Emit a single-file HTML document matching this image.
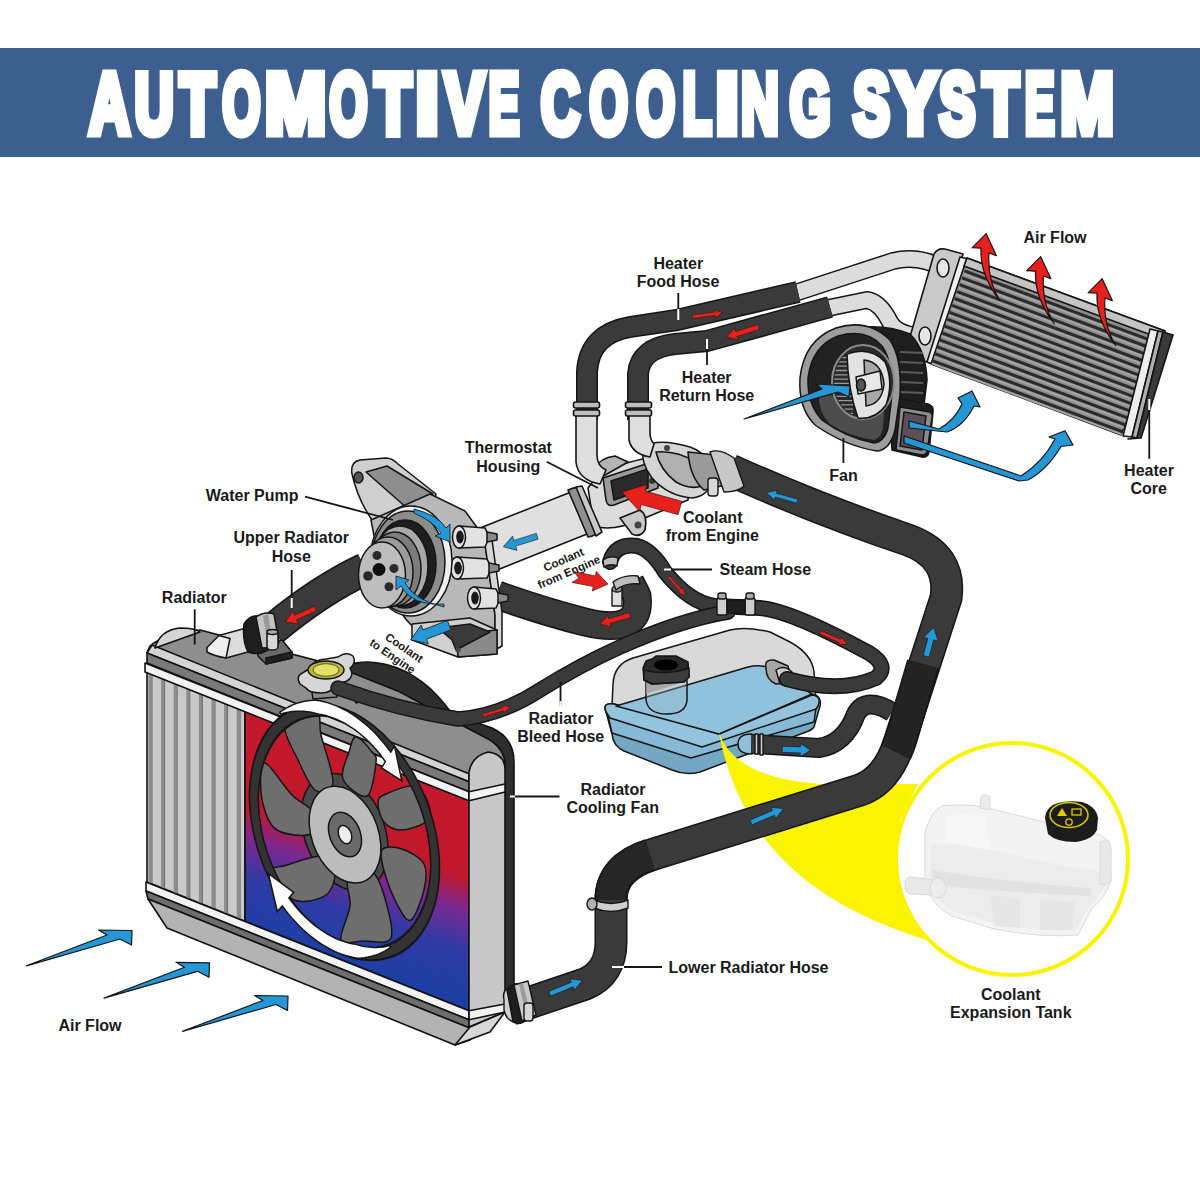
<!DOCTYPE html>
<html><head><meta charset="utf-8">
<style>
html,body{margin:0;padding:0;background:#fff;width:1200px;height:1200px;overflow:hidden}
svg{display:block}
.lb{font-family:"Liberation Sans",sans-serif;font-weight:bold;font-size:16px;fill:#1a1a1a;text-anchor:middle}
.ln{stroke:#111;stroke-width:2;fill:none}
.o{stroke:#111;stroke-width:1.6;stroke-linejoin:round}
</style></head><body>
<svg width="1200" height="1200" viewBox="0 0 1200 1200">
<defs>
<linearGradient id="rg" gradientUnits="userSpaceOnUse" x1="357" y1="756" x2="294.5" y2="945.4">
<stop offset="0" stop-color="#c5182b"/>
<stop offset="0.41" stop-color="#c0182c"/>
<stop offset="0.56" stop-color="#7d2790"/>
<stop offset="0.76" stop-color="#2f3aa5"/>
<stop offset="1" stop-color="#1d3fa3"/>
</linearGradient>
</defs>
<rect width="1200" height="1200" fill="#fff"/>
<rect x="0" y="48" width="1200" height="109" fill="#3c5f8f"/>
<g font-family="Liberation Sans" font-weight="bold" font-size="84.67" fill="#fff" stroke="#fff" stroke-width="9.0" stroke-linejoin="miter" stroke-miterlimit="2.5">
<text transform="translate(89.17,132.5) scale(0.6595,1)">A</text>
<text transform="translate(134.63,132.5) scale(0.6346,1)">U</text>
<text transform="translate(179.93,132.5) scale(0.6812,1)">T</text>
<text transform="translate(222.59,132.5) scale(0.5749,1)">O</text>
<text transform="translate(264.99,132.5) scale(0.8653,1)">M</text>
<text transform="translate(329.59,132.5) scale(0.5749,1)">O</text>
<text transform="translate(375.00,132.5) scale(0.6999,1)">T</text>
<text transform="translate(415.87,132.5) scale(0.9674,1)">I</text>
<text transform="translate(444.74,132.5) scale(0.7000,1)">V</text>
<text transform="translate(488.87,132.5) scale(0.5398,1)">E</text>
<text transform="translate(541.05,132.5) scale(0.6307,1)">C</text>
<text transform="translate(589.60,132.5) scale(0.5808,1)">O</text>
<text transform="translate(636.60,132.5) scale(0.5837,1)">O</text>
<text transform="translate(682.84,132.5) scale(0.5588,1)">L</text>
<text transform="translate(715.87,132.5) scale(0.9674,1)">I</text>
<text transform="translate(741.28,132.5) scale(0.6124,1)">N</text>
<text transform="translate(789.64,132.5) scale(0.6198,1)">G</text>
<text transform="translate(853.32,132.5) scale(0.6447,1)">S</text>
<text transform="translate(892.92,132.5) scale(0.7898,1)">Y</text>
<text transform="translate(939.30,132.5) scale(0.6364,1)">S</text>
<text transform="translate(982.96,132.5) scale(0.6880,1)">T</text>
<text transform="translate(1024.89,132.5) scale(0.5221,1)">E</text>
<text transform="translate(1060.61,132.5) scale(0.7553,1)">M</text>
</g>
<path d="M795,293 L893,261 Q918,255 943,268" fill="none" stroke="#151515" stroke-width="18" stroke-linecap="round" stroke-linejoin="round"/>
<path d="M795,293 L893,261 Q918,255 943,268" fill="none" stroke="#dcdcdc" stroke-width="15" stroke-linecap="round" stroke-linejoin="round"/>
<path d="M828,308 L867,300 Q880,302 890,322 Q898,336 925,336" fill="none" stroke="#151515" stroke-width="18" stroke-linecap="round" stroke-linejoin="round"/>
<path d="M828,308 L867,300 Q880,302 890,322 Q898,336 925,336" fill="none" stroke="#dcdcdc" stroke-width="15" stroke-linecap="round" stroke-linejoin="round"/>
<path d="M587,420 L587,372 Q589,334 630,327 L677,320 L798,292" fill="none" stroke="#151515" stroke-width="22" stroke-linecap="butt" stroke-linejoin="round"/>
<path d="M587,420 L587,372 Q589,334 630,327 L677,320 L798,292" fill="none" stroke="#3a3a3a" stroke-width="19" stroke-linecap="butt" stroke-linejoin="round"/>
<path d="M638,420 L638,374 Q640,348 675,344 L707,341 L830,307" fill="none" stroke="#151515" stroke-width="22" stroke-linecap="butt" stroke-linejoin="round"/>
<path d="M638,420 L638,374 Q640,348 675,344 L707,341 L830,307" fill="none" stroke="#3a3a3a" stroke-width="19" stroke-linecap="butt" stroke-linejoin="round"/>
<path d="M497,595 Q545,612 585,622 Q642,636 637,596 L630,582" fill="none" stroke="#151515" stroke-width="29" stroke-linecap="butt" stroke-linejoin="round"/>
<path d="M497,595 Q545,612 585,622 Q642,636 637,596 L630,582" fill="none" stroke="#3a3a3a" stroke-width="26" stroke-linecap="butt" stroke-linejoin="round"/>
<path d="M365,569 Q320,590 272,630" fill="none" stroke="#151515" stroke-width="33" stroke-linecap="butt" stroke-linejoin="round"/>
<path d="M365,569 Q320,590 272,630" fill="none" stroke="#3a3a3a" stroke-width="30" stroke-linecap="butt" stroke-linejoin="round"/>
<path d="M905,354 L934,254 Q937,248 945,249 L963,254 L930,363 Z" fill="#c9c9c9" stroke="#151515" stroke-width="1.6" stroke-linejoin="round"/>
<path d="M960,257 L968,259 L935,365 L927,362 Z" fill="#efefef" stroke="#151515" stroke-width="1.6" stroke-linejoin="round"/>
<ellipse cx="943" cy="268" rx="6" ry="9" fill="#e6e6e6" stroke="#151515" stroke-width="1.6" stroke-linejoin="round"/>
<ellipse cx="925" cy="336" rx="6" ry="9" fill="#e6e6e6" stroke="#151515" stroke-width="1.6" stroke-linejoin="round"/>
<path d="M967,258 L1165,331 L1121,435 L931,364 Z" fill="#8e8e8e" stroke="#151515" stroke-width="1.6" stroke-linejoin="round"/>
<path d="M967,258 L1165,331 L1162,339 L964,266 Z" fill="#c4c4c4" stroke="#151515" stroke-width="1.6" stroke-linejoin="round"/>
<line x1="964.5" y1="270.9" x2="1160.1" y2="343.8" stroke="#2a2a2a" stroke-width="3"/>
<line x1="963.8" y1="273.9" x2="1159.4" y2="346.8" stroke="#a8a8a8" stroke-width="1.6"/>
<line x1="962.0" y1="277.8" x2="1157.2" y2="350.5" stroke="#2a2a2a" stroke-width="3"/>
<line x1="961.3" y1="280.8" x2="1156.5" y2="353.5" stroke="#a8a8a8" stroke-width="1.6"/>
<line x1="959.6" y1="284.7" x2="1154.3" y2="357.3" stroke="#2a2a2a" stroke-width="3"/>
<line x1="958.9" y1="287.7" x2="1153.6" y2="360.3" stroke="#a8a8a8" stroke-width="1.6"/>
<line x1="957.1" y1="291.6" x2="1151.4" y2="364.0" stroke="#2a2a2a" stroke-width="3"/>
<line x1="956.4" y1="294.6" x2="1150.7" y2="367.0" stroke="#a8a8a8" stroke-width="1.6"/>
<line x1="954.6" y1="298.5" x2="1148.5" y2="370.8" stroke="#2a2a2a" stroke-width="3"/>
<line x1="953.9" y1="301.5" x2="1147.8" y2="373.8" stroke="#a8a8a8" stroke-width="1.6"/>
<line x1="952.1" y1="305.4" x2="1145.6" y2="377.6" stroke="#2a2a2a" stroke-width="3"/>
<line x1="951.4" y1="308.4" x2="1144.9" y2="380.6" stroke="#a8a8a8" stroke-width="1.6"/>
<line x1="949.6" y1="312.3" x2="1142.7" y2="384.3" stroke="#2a2a2a" stroke-width="3"/>
<line x1="948.9" y1="315.3" x2="1142.0" y2="387.3" stroke="#a8a8a8" stroke-width="1.6"/>
<line x1="947.1" y1="319.2" x2="1139.8" y2="391.1" stroke="#2a2a2a" stroke-width="3"/>
<line x1="946.4" y1="322.2" x2="1139.1" y2="394.1" stroke="#a8a8a8" stroke-width="1.6"/>
<line x1="944.7" y1="326.1" x2="1136.9" y2="397.8" stroke="#2a2a2a" stroke-width="3"/>
<line x1="944.0" y1="329.1" x2="1136.2" y2="400.8" stroke="#a8a8a8" stroke-width="1.6"/>
<line x1="942.2" y1="333.0" x2="1134.0" y2="404.6" stroke="#2a2a2a" stroke-width="3"/>
<line x1="941.5" y1="336.0" x2="1133.3" y2="407.6" stroke="#a8a8a8" stroke-width="1.6"/>
<line x1="939.7" y1="339.9" x2="1131.1" y2="411.3" stroke="#2a2a2a" stroke-width="3"/>
<line x1="939.0" y1="342.9" x2="1130.4" y2="414.3" stroke="#a8a8a8" stroke-width="1.6"/>
<line x1="937.2" y1="346.8" x2="1128.2" y2="418.1" stroke="#2a2a2a" stroke-width="3"/>
<line x1="936.5" y1="349.8" x2="1127.5" y2="421.1" stroke="#a8a8a8" stroke-width="1.6"/>
<line x1="934.7" y1="353.7" x2="1125.3" y2="424.9" stroke="#2a2a2a" stroke-width="3"/>
<line x1="934.0" y1="356.7" x2="1124.6" y2="427.9" stroke="#a8a8a8" stroke-width="1.6"/>
<line x1="932.2" y1="360.6" x2="1122.4" y2="431.6" stroke="#2a2a2a" stroke-width="3"/>
<line x1="931.5" y1="363.6" x2="1121.7" y2="434.6" stroke="#a8a8a8" stroke-width="1.6"/>
<path d="M1150,329 L1158,331 L1132,437 L1123,436 Z" fill="#eeeeee" stroke="#151515" stroke-width="1.6" stroke-linejoin="round"/>
<path d="M1158,331 L1163,332 L1137,438 L1132,437 Z" fill="#b0b0b0" stroke="#151515" stroke-width="1.6" stroke-linejoin="round"/>
<path d="M1163,332 L1173,335 L1141,438 L1128,439 L1137,438 Z" fill="#3a3a3a" stroke="#151515" stroke-width="1.6" stroke-linejoin="round"/>
<path d="M845,330 Q880,322 910,334 Q926,350 927,380 L924,405 L880,450 L840,420 Z" fill="#1e1e1e" stroke="#151515" stroke-width="1.5" stroke-linejoin="round"/>
<line x1="900" y1="352" x2="923" y2="353" stroke="#5a5a5a" stroke-width="2"/>
<line x1="900" y1="362" x2="923" y2="363" stroke="#5a5a5a" stroke-width="2"/>
<line x1="900" y1="372" x2="923" y2="373" stroke="#5a5a5a" stroke-width="2"/>
<line x1="900" y1="382" x2="923" y2="383" stroke="#5a5a5a" stroke-width="2"/>
<line x1="900" y1="392" x2="923" y2="393" stroke="#5a5a5a" stroke-width="2"/>
<line x1="900" y1="402" x2="923" y2="403" stroke="#5a5a5a" stroke-width="2"/>
<path d="M888,396 L928,404 Q934,406 933,412 L929,452 Q928,458 922,457 L892,450 Z" fill="#1e1e1e" stroke="#151515" stroke-width="1.5" stroke-linejoin="round"/>
<path d="M900,407 L930,412 Q933,414 932,418 L927,452 Q926,455 922,455 L896,450 Z" fill="#8c8c8c" stroke="#151515" stroke-width="1.5" stroke-linejoin="round"/>
<path d="M904,412 L926,416 L922,450 L900,446 Z" fill="#5d4f58" stroke="#151515" stroke-width="1.5" stroke-linejoin="round"/>
<path d="M877,451 Q845,446 815,425 Q798,408 800,378 Q804,340 836,328 Q868,318 890,340 Q902,358 900,395 L895,430 Q890,450 877,451 Z" fill="#9c9c9c" stroke="#151515" stroke-width="1.5" stroke-linejoin="round"/>
<path d="M874,443 Q846,438 822,420 Q807,404 808,378 Q812,346 838,336 Q866,328 882,346 Q893,362 892,395 L888,428 Q884,442 874,443 Z" fill="#222" stroke="#151515" stroke-width="1.5" stroke-linejoin="round"/>
<path d="M874,440 Q848,436 830,424 Q818,412 819,395 L885,398 L883,428 Q881,438 874,440 Z" fill="#4c4c4c"/>
<ellipse cx="863" cy="382" rx="31" ry="37" fill="#2a2a2a" stroke="#8a8a8a" stroke-width="2"/>
<clipPath id="wcl"><ellipse cx="863" cy="382" rx="29" ry="35"/></clipPath><g clip-path="url(#wcl)">
<line x1="830" y1="349.0" x2="853" y2="349.0" stroke="#9a9a9a" stroke-width="1.3"/>
<line x1="830" y1="353.3" x2="853" y2="353.3" stroke="#9a9a9a" stroke-width="1.3"/>
<line x1="830" y1="357.6" x2="853" y2="357.6" stroke="#9a9a9a" stroke-width="1.3"/>
<line x1="830" y1="361.9" x2="853" y2="361.9" stroke="#9a9a9a" stroke-width="1.3"/>
<line x1="830" y1="366.2" x2="853" y2="366.2" stroke="#9a9a9a" stroke-width="1.3"/>
<line x1="830" y1="370.5" x2="853" y2="370.5" stroke="#9a9a9a" stroke-width="1.3"/>
<line x1="830" y1="374.8" x2="853" y2="374.8" stroke="#9a9a9a" stroke-width="1.3"/>
<line x1="830" y1="379.1" x2="853" y2="379.1" stroke="#9a9a9a" stroke-width="1.3"/>
<line x1="830" y1="383.4" x2="853" y2="383.4" stroke="#9a9a9a" stroke-width="1.3"/>
<line x1="830" y1="387.7" x2="853" y2="387.7" stroke="#9a9a9a" stroke-width="1.3"/>
<line x1="830" y1="392.0" x2="853" y2="392.0" stroke="#9a9a9a" stroke-width="1.3"/>
<line x1="830" y1="396.3" x2="853" y2="396.3" stroke="#9a9a9a" stroke-width="1.3"/>
<line x1="830" y1="400.6" x2="853" y2="400.6" stroke="#9a9a9a" stroke-width="1.3"/>
<line x1="830" y1="404.9" x2="853" y2="404.9" stroke="#9a9a9a" stroke-width="1.3"/>
<line x1="830" y1="409.2" x2="853" y2="409.2" stroke="#9a9a9a" stroke-width="1.3"/>
<line x1="830" y1="413.5" x2="853" y2="413.5" stroke="#9a9a9a" stroke-width="1.3"/>
</g>
<path d="M847,354 Q870,346 885,362 Q894,382 886,405 Q875,420 858,418 Q848,390 847,354 Z" fill="#e2e2e2" stroke="#151515" stroke-width="1.5" stroke-linejoin="round"/>
<path d="M864,360 Q882,362 884,384 Q882,404 866,406 Z" fill="#a8a8a8" stroke="#151515" stroke-width="1.5" stroke-linejoin="round"/>
<path d="M856,377 L880,371 L882,389 L858,394 Z" fill="#e8e8e8" stroke="#151515" stroke-width="1.5" stroke-linejoin="round"/>
<ellipse cx="861" cy="385" rx="4.5" ry="6" fill="#555" stroke="#151515" stroke-width="1.5" stroke-linejoin="round"/>
<path d="M470,532 L571,492 L587,534 L482,576 Z" fill="#e0e0e0" stroke="#151515" stroke-width="1.6" stroke-linejoin="round"/>
<path d="M588,488 Q602,466 648,458 L690,478 L688,500 L640,520 Q612,532 594,526 Z" fill="#dcdcdc" stroke="#151515" stroke-width="1.6" stroke-linejoin="round"/>
<path d="M595,468 Q600,458 615,456 L628,462 L600,478 Z" fill="#b5b5b5" stroke="#151515" stroke-width="1.6" stroke-linejoin="round"/>
<path d="M568,490 Q576,486 582,488 L600,530 Q596,536 588,537 Z" fill="#8f8f8f" stroke="#151515" stroke-width="1.6" stroke-linejoin="round"/>
<path d="M576,487 L582,486 L602,532 L596,536 Z" fill="#c8c8c8" stroke="#151515" stroke-width="1.6" stroke-linejoin="round"/>
<path d="M603,478 L652,462 Q658,461 658,468 L658,488 L614,505 Q607,507 606,500 Z" fill="#9a9a9a" stroke="#151515" stroke-width="1.6" stroke-linejoin="round"/>
<path d="M611,481 L648,469 L648,488 L614,500 Z" fill="#2a2a2a" stroke="#151515" stroke-width="1.6" stroke-linejoin="round"/>
<circle cx="652" cy="481" r="3" fill="#333"/>
<path d="M620,518 L640,510 Q648,515 645,530 Q640,538 632,534 Z" fill="#c8c8c8" stroke="#151515" stroke-width="1.6" stroke-linejoin="round"/>
<circle cx="638" cy="525" r="3.5" fill="#444"/>
<path d="M643,446 Q660,438 690,447 Q712,455 712,478 Q710,496 692,498 Q668,496 652,478 Q640,462 643,446 Z" fill="#d5d5d5" stroke="#151515" stroke-width="1.6" stroke-linejoin="round"/>
<path d="M656,452 Q676,450 696,462 Q706,472 702,486 Q690,490 676,482 Q660,470 656,452 Z" fill="#b0b0b0" stroke="#151515" stroke-width="1.6" stroke-linejoin="round"/>
<circle cx="667" cy="448" r="3" fill="#444"/>
<path d="M688,452 L716,455 L730,484 L704,490 Q690,478 688,452 Z" fill="#9a9a9a" stroke="#151515" stroke-width="1.6" stroke-linejoin="round"/>
<path d="M576,410 L576,462 Q578,480 600,484 L606,470 Q597,466 597,455 L597,410 Z" fill="#dedede" stroke="#151515" stroke-width="1.6" stroke-linejoin="round"/>
<path d="M629,410 L629,440 Q632,454 650,457 L654,444 Q650,440 650,432 L650,410 Z" fill="#dedede" stroke="#151515" stroke-width="1.6" stroke-linejoin="round"/>
<rect x="573.5" y="402" width="26" height="6" rx="2" fill="#bdbdbd" stroke="#151515" stroke-width="1.6" stroke-linejoin="round"/>
<rect x="573.5" y="410" width="26" height="6" rx="2" fill="#bdbdbd" stroke="#151515" stroke-width="1.6" stroke-linejoin="round"/>
<rect x="625.5" y="402" width="26" height="6" rx="2" fill="#bdbdbd" stroke="#151515" stroke-width="1.6" stroke-linejoin="round"/>
<rect x="625.5" y="410" width="26" height="6" rx="2" fill="#bdbdbd" stroke="#151515" stroke-width="1.6" stroke-linejoin="round"/>
<path d="M352,474 Q350,462 360,460 L386,458 Q392,458 398,464 L436,494 L430,520 L372,520 Q358,500 352,474 Z" fill="#cfcfcf" stroke="#151515" stroke-width="1.5" stroke-linejoin="round"/>
<path d="M366,472 L387,466 L433,494 L408,509 Z" fill="#8e8e8e" stroke="#151515" stroke-width="1.5" stroke-linejoin="round"/>
<ellipse cx="358.5" cy="477.5" rx="4.5" ry="5.5" fill="#555" stroke="#151515" stroke-width="1.5" stroke-linejoin="round"/>
<path d="M371,520 L430,494 L465,511 L484,537 L495,615 L495,650 L456,655 L412,626 Q385,600 371,520 Z" fill="#b8b8b8" stroke="#151515" stroke-width="1.5" stroke-linejoin="round"/>
<path d="M484,537 L492,540 L502,612 L502,646 L495,650 L495,615 Z" fill="#d6d6d6" stroke="#151515" stroke-width="1.5" stroke-linejoin="round"/>
<path d="M412,624 L470,618 L497,630 L497,654 L458,657 L412,640 Z" fill="#d0d0d0" stroke="#151515" stroke-width="1.5" stroke-linejoin="round"/>
<path d="M456,634 L497,630 L497,654 L458,657 Z" fill="#8a8a8a" stroke="#151515" stroke-width="1.5" stroke-linejoin="round"/>
<path d="M438,628 L470,624 L490,632 L456,650 L452,640 Z" fill="#3a3a3a" stroke="#151515" stroke-width="1.5" stroke-linejoin="round"/>
<circle cx="458" cy="650" r="2.5" fill="#444"/>
<path d="M459,526 L485,528 Q491,537 485,547 L459,548 Z" fill="#e2e2e2" stroke="#151515" stroke-width="1.5" stroke-linejoin="round"/>
<ellipse cx="459" cy="537" rx="6.5" ry="11" fill="#e2e2e2" stroke="#151515" stroke-width="1.5" stroke-linejoin="round"/>
<ellipse cx="460" cy="537" rx="3.8" ry="6.5" fill="#1a1a1a"/>
<path d="M487,532 L497,534 L497,540 L487,542 Z" fill="#8a8a8a" stroke="#151515" stroke-width="1.5" stroke-linejoin="round"/>
<path d="M457,557 L487,559 Q493,568 487,578 L457,579 Z" fill="#e2e2e2" stroke="#151515" stroke-width="1.5" stroke-linejoin="round"/>
<ellipse cx="457" cy="568" rx="6.5" ry="11" fill="#e2e2e2" stroke="#151515" stroke-width="1.5" stroke-linejoin="round"/>
<ellipse cx="458" cy="568" rx="3.8" ry="6.5" fill="#1a1a1a"/>
<path d="M489,563 L499,565 L499,571 L489,573 Z" fill="#8a8a8a" stroke="#151515" stroke-width="1.5" stroke-linejoin="round"/>
<path d="M474,587 L496,589 Q502,598 496,608 L474,609 Z" fill="#e2e2e2" stroke="#151515" stroke-width="1.5" stroke-linejoin="round"/>
<ellipse cx="474" cy="598" rx="6.5" ry="11" fill="#e2e2e2" stroke="#151515" stroke-width="1.5" stroke-linejoin="round"/>
<ellipse cx="475" cy="598" rx="3.8" ry="6.5" fill="#1a1a1a"/>
<path d="M498,593 L508,595 L508,601 L498,603 Z" fill="#8a8a8a" stroke="#151515" stroke-width="1.5" stroke-linejoin="round"/>
<ellipse cx="411" cy="561" rx="41" ry="55" fill="#efefef" stroke="#151515" stroke-width="1.5" stroke-linejoin="round"/>
<ellipse cx="408" cy="562" rx="37" ry="51" fill="#8c8c8c" stroke="#151515" stroke-width="1.5" stroke-linejoin="round"/>
<ellipse cx="405" cy="564" rx="31" ry="44" fill="#1e1e1e" stroke="#151515" stroke-width="1.5" stroke-linejoin="round"/>
<ellipse cx="400" cy="566" rx="28" ry="40" fill="#a9a9a9" stroke="#151515" stroke-width="1.5" stroke-linejoin="round"/>
<ellipse cx="395" cy="569" rx="26" ry="37" fill="#7d7d7d" stroke="#151515" stroke-width="1.5" stroke-linejoin="round"/>
<ellipse cx="388" cy="572" rx="25" ry="35" fill="#9c9c9c" stroke="#151515" stroke-width="1.5" stroke-linejoin="round"/>
<ellipse cx="382" cy="575" rx="23.5" ry="33" fill="#bdbdbd" stroke="#151515" stroke-width="1.5" stroke-linejoin="round"/>
<circle cx="377" cy="555.4" r="4.5" fill="#2a2a2a"/>
<circle cx="394" cy="568.4" r="4.5" fill="#2a2a2a"/>
<circle cx="389" cy="586.8" r="4.5" fill="#2a2a2a"/>
<circle cx="368" cy="576" r="4.8" fill="#2a2a2a"/>
<circle cx="379" cy="569.5" r="6.5" fill="#0e0e0e"/>
<path class="o" d="M336,672 C356,654 412,656 452,714 L492,728 Q514,738 514,762 L514,1002 L504,1010 L470,760 Z" fill="#2e2e2e"/>
<path class="o" d="M147,653 L150,646 Q160,636 200,630 L330,664 L400,692 L450,719 L490,740 Q505,750 505,765 L469,781.8 Z" fill="#8e8e8e"/>
<path class="o" d="M147,653 L152,645 L469,773.8 L469,781.8 Z" fill="#d4d4d4"/>
<path class="o" d="M147,653 L469,781.8 L469,791.8 L147,663 Z" fill="#7a7a7a"/>
<path class="o" d="M147,672 L245,711.2 L245,921.2 L147,882 Z" fill="#c9c9c9"/>
<line x1="150.0" y1="673.2" x2="150.0" y2="883.2" stroke="#8c8c8c" stroke-width="3"/>
<line x1="152.0" y1="674.0" x2="152.0" y2="884.0" stroke="#555" stroke-width="0.8"/>
<line x1="162.6" y1="678.2" x2="162.6" y2="888.2" stroke="#8c8c8c" stroke-width="3"/>
<line x1="164.6" y1="679.0" x2="164.6" y2="889.0" stroke="#555" stroke-width="0.8"/>
<line x1="175.2" y1="683.3" x2="175.2" y2="893.3" stroke="#8c8c8c" stroke-width="3"/>
<line x1="177.2" y1="684.1" x2="177.2" y2="894.1" stroke="#555" stroke-width="0.8"/>
<line x1="187.8" y1="688.3" x2="187.8" y2="898.3" stroke="#8c8c8c" stroke-width="3"/>
<line x1="189.8" y1="689.1" x2="189.8" y2="899.1" stroke="#555" stroke-width="0.8"/>
<line x1="200.4" y1="693.4" x2="200.4" y2="903.4" stroke="#8c8c8c" stroke-width="3"/>
<line x1="202.4" y1="694.2" x2="202.4" y2="904.2" stroke="#555" stroke-width="0.8"/>
<line x1="213.0" y1="698.4" x2="213.0" y2="908.4" stroke="#8c8c8c" stroke-width="3"/>
<line x1="215.0" y1="699.2" x2="215.0" y2="909.2" stroke="#555" stroke-width="0.8"/>
<line x1="225.6" y1="703.4" x2="225.6" y2="913.4" stroke="#8c8c8c" stroke-width="3"/>
<line x1="227.6" y1="704.2" x2="227.6" y2="914.2" stroke="#555" stroke-width="0.8"/>
<line x1="238.2" y1="708.5" x2="238.2" y2="918.5" stroke="#8c8c8c" stroke-width="3"/>
<line x1="240.2" y1="709.3" x2="240.2" y2="919.3" stroke="#555" stroke-width="0.8"/>
<path class="o" d="M245,711.2 L469,800.8 L469,1010.8 L245,921.2 Z" fill="url(#rg)"/>
<path class="o" d="M145,663 L469,791.8 L469,800.8 L145,672 Z" fill="#f3f3f3"/>
<path class="o" d="M146,882 L469,1010.8 L469,1019.8 L146,891 Z" fill="#f3f3f3"/>
<path class="o" d="M146,891 L469,1019.8 L469,1027.8 L148,899 Z" fill="#6e6e6e"/>
<path class="o" d="M148,899 L469,1027.8 L505,1012 L470,1040 L455,1045 L167,928 Z" fill="#b3b3b3"/>
<path class="o" d="M469,1027 L469,772 Q472,756 488,752 Q505,754 505,770 L505,1012 Z" fill="#c8c8c8"/>
<path class="o" d="M469,791.8 L505,784 L505,792 L469,800.8 Z" fill="#f3f3f3"/>
<path class="o" d="M469,1010.8 L505,1004 L505,1012 L469,1019.8 Z" fill="#f3f3f3"/>
<path class="o" d="M455,1045 L470,1027 L505,1012 L490,1032 Z" fill="#d8d8d8"/>
<path class="o" d="M155,648 Q160,630 180,628 Q195,628 200,632 Z" fill="#d5d5d5"/>
<g transform="matrix(0.91,0.02,0.25,1.274,344.5,832)">
<circle r="46" fill="#4a4a4a" stroke="#151515" stroke-width="1.5" vector-effect="non-scaling-stroke"/>
</g>
<path d="M315.0,790.0 C309.0,785.8 302.0,768.0 297.0,758.0 C292.0,748.0 286.0,737.3 285.0,730.0 C284.0,722.7 285.7,717.0 291.0,714.0 C296.3,711.0 312.0,708.5 317.0,712.0 C322.0,715.5 318.3,723.2 321.0,735.0 C323.7,746.8 334.0,773.8 333.0,783.0 C332.0,792.2 321.0,794.2 315.0,790.0 Z" fill="#6e6e6e" stroke="#151515" stroke-width="1.5" stroke-linejoin="round"/>
<path d="M343.0,779.0 C340.0,771.7 346.8,759.0 349.0,752.0 C351.2,745.0 352.2,737.0 356.0,737.0 C359.8,737.0 368.7,747.8 372.0,752.0 C375.3,756.2 376.8,754.7 376.0,762.0 C375.2,769.3 372.5,793.2 367.0,796.0 C361.5,798.8 346.0,786.3 343.0,779.0 Z" fill="#6e6e6e" stroke="#151515" stroke-width="1.5" stroke-linejoin="round"/>
<path d="M378.0,802.0 C378.3,797.3 380.0,796.7 386.0,794.0 C392.0,791.3 407.2,785.0 414.0,786.0 C420.8,787.0 424.7,794.3 427.0,800.0 C429.3,805.7 432.2,815.0 428.0,820.0 C423.8,825.0 409.3,829.7 402.0,830.0 C394.7,830.3 388.0,826.7 384.0,822.0 C380.0,817.3 377.7,806.7 378.0,802.0 Z" fill="#6e6e6e" stroke="#151515" stroke-width="1.5" stroke-linejoin="round"/>
<path d="M382.0,850.0 C384.8,845.8 395.0,846.7 402.0,849.0 C409.0,851.3 420.3,857.2 424.0,864.0 C427.7,870.8 426.2,880.7 424.0,890.0 C421.8,899.3 415.3,917.3 411.0,920.0 C406.7,922.7 402.3,913.7 398.0,906.0 C393.7,898.3 387.7,883.3 385.0,874.0 C382.3,864.7 379.2,854.2 382.0,850.0 Z" fill="#6e6e6e" stroke="#151515" stroke-width="1.5" stroke-linejoin="round"/>
<path d="M348.0,878.0 C351.5,872.2 365.0,868.2 371.0,871.0 C377.0,873.8 380.7,883.8 384.0,895.0 C387.3,906.2 394.5,930.3 391.0,938.0 C387.5,945.7 371.3,940.7 363.0,941.0 C354.7,941.3 343.2,945.8 341.0,940.0 C338.8,934.2 348.8,916.3 350.0,906.0 C351.2,895.7 344.5,883.8 348.0,878.0 Z" fill="#6e6e6e" stroke="#151515" stroke-width="1.5" stroke-linejoin="round"/>
<path d="M322.0,856.0 C330.0,857.0 334.3,864.5 335.0,871.0 C335.7,877.5 332.8,890.2 326.0,895.0 C319.2,899.8 303.3,903.8 294.0,900.0 C284.7,896.2 271.2,877.8 270.0,872.0 C268.8,866.2 278.3,867.7 287.0,865.0 C295.7,862.3 314.0,855.0 322.0,856.0 Z" fill="#6e6e6e" stroke="#151515" stroke-width="1.5" stroke-linejoin="round"/>
<path d="M313.0,812.0 C316.2,818.5 317.0,831.0 311.0,834.0 C305.0,837.0 285.0,835.0 277.0,830.0 C269.0,825.0 265.7,814.0 263.0,804.0 C260.3,794.0 260.2,776.5 261.0,770.0 C261.8,763.5 262.8,760.8 268.0,765.0 C273.2,769.2 284.5,787.2 292.0,795.0 C299.5,802.8 309.8,805.5 313.0,812.0 Z" fill="#6e6e6e" stroke="#151515" stroke-width="1.5" stroke-linejoin="round"/>
<g transform="matrix(0.91,0.02,0.25,1.274,344.5,832)">
<circle cx="0" cy="2" r="38" fill="#bcbcbc" stroke="#151515" stroke-width="1.5" vector-effect="non-scaling-stroke"/>
<circle cx="0" cy="2" r="17.5" fill="#6a6a6a" stroke="#151515" stroke-width="1.5" vector-effect="non-scaling-stroke"/>
<circle cx="0" cy="2" r="7.2" fill="#ededed" stroke="#151515" stroke-width="1.5" vector-effect="non-scaling-stroke"/>
<circle r="96" fill="none" stroke="#151515" stroke-width="11"/>
<circle r="96" fill="none" stroke="#333" stroke-width="7.6"/>
<path d="M-45.5,-93.2 L-41.5,-95.1 L-37.4,-96.7 L-33.2,-98.2 L-29.0,-99.5 L-24.8,-100.6 L-20.5,-101.5 L-16.1,-102.3 L-11.8,-102.9 L-7.4,-103.2 L-3.0,-103.4 L1.4,-103.0 L5.7,-102.3 L10.0,-101.5 L14.2,-100.4 L18.4,-99.3 L22.5,-97.9 L26.5,-96.4 L30.4,-94.7 L34.2,-92.8 L37.9,-90.8 L41.5,-88.7 L45.0,-86.4 L48.4,-84.0 L51.7,-81.4 L54.8,-78.7 L57.8,-75.9 L60.6,-73.0 L63.3,-70.0 L65.9,-66.9 L68.3,-63.7 L73.8,-68.8 L74.3,-41.2 L54.8,-51.1 L60.3,-56.2 L58.2,-59.1 L56.0,-61.9 L53.6,-64.6 L51.1,-67.2 L48.5,-69.7 L45.8,-72.1 L42.9,-74.4 L40.0,-76.6 L36.9,-78.7 L33.7,-80.7 L30.4,-82.5 L27.0,-84.2 L23.6,-85.8 L20.0,-87.2 L16.4,-88.4 L12.7,-89.6 L8.9,-90.5 L5.1,-91.3 L1.2,-92.0 L-2.7,-92.4 L-6.7,-93.2 L-10.7,-93.8 L-14.9,-94.2 L-19.1,-94.5 L-23.3,-94.5 L-27.5,-94.4 L-31.8,-94.1 L-36.2,-93.5 L-40.5,-92.8 L-44.8,-91.9 Z" fill="#fff" stroke="#151515" stroke-width="1.5" vector-effect="non-scaling-stroke"/>
<path d="M25.8,90.1 L22.2,91.7 L18.6,93.2 L14.8,94.5 L11.0,95.7 L7.0,96.7 L3.1,97.5 L-1.0,98.2 L-5.1,98.7 L-9.2,99.1 L-13.4,99.3 L-17.5,98.8 L-21.6,98.1 L-25.7,97.3 L-29.7,96.3 L-33.7,95.2 L-37.7,93.9 L-41.6,92.4 L-45.4,90.7 L-49.2,88.9 L-52.9,87.0 L-56.6,84.8 L-60.1,82.6 L-63.6,80.1 L-67.0,77.6 L-70.2,74.9 L-73.4,72.0 L-76.4,69.0 L-79.3,65.9 L-82.1,62.7 L-84.7,59.3 L-91.3,63.9 L-93.0,33.9 L-69.2,48.4 L-75.7,53.0 L-73.3,56.0 L-70.8,58.9 L-68.2,61.7 L-65.5,64.3 L-62.7,66.8 L-59.8,69.2 L-56.8,71.5 L-53.7,73.7 L-50.5,75.7 L-47.2,77.6 L-43.9,79.3 L-40.5,80.9 L-37.1,82.3 L-33.6,83.7 L-30.0,84.8 L-26.5,85.8 L-22.8,86.7 L-19.2,87.4 L-15.6,88.0 L-11.9,88.4 L-8.3,89.1 L-4.6,89.7 L-0.9,90.1 L2.8,90.3 L6.6,90.5 L10.4,90.4 L14.1,90.2 L17.9,89.9 L21.7,89.3 L25.4,88.7 Z" fill="#fff" stroke="#151515" stroke-width="1.5" vector-effect="non-scaling-stroke"/>
</g>
<path d="M612,706 L613,684 Q614,664 633,658 L730,630 Q745,626 770,632 L790,642 Q812,654 814,672 L816,700 Z" fill="#d9d9d9" stroke="#151515" stroke-width="1.5" stroke-linejoin="round"/>
<path d="M606,712 Q602,702 614,704 L719,733 L812,694 Q822,696 820,706 L814,727 Q812,730 806,732 L700,772 Q686,776 672,770 L624,751 Q613,746 612,734 Z" fill="#73a7c4" stroke="#151515" stroke-width="1.5" stroke-linejoin="round"/>
<path d="M608,716 L702,746 L816,708 L814,722 L691,758 L612,733 Z" fill="#86b9d5" stroke="#151515" stroke-width="1.5" stroke-linejoin="round"/>
<path d="M606,712 Q602,702 614,704 L719,734 L812,695 Q822,696 818,706 L816,709 L702,747 L610,718 Z" fill="#93c3dd" stroke="#151515" stroke-width="1.5" stroke-linejoin="round"/>
<path d="M616,706 L748,667 Q760,664 770,668 L812,694 L719,734 Z" fill="#90c2dc" stroke="#151515" stroke-width="1.5" stroke-linejoin="round"/>
<path d="M646,680 L646,700 Q648,714 667,714 Q686,714 687,700 L687,680" fill="#9fb6c2" fill-opacity="0.35" stroke="#151515" stroke-width="1.5" stroke-linejoin="round"/>
<path d="M646,680 L646,694 L687,681 L687,680 Z" fill="#a0a0a0" fill-opacity="0.8"/>
<path d="M643,668 L646,661 L652,659 L656,656 L676,656 L682,659 L688,662 L689,677 L684,682 L652,684 L644,680 Z" fill="#2a2a2a" stroke="#151515" stroke-width="1.5" stroke-linejoin="round"/>
<path d="M644,670 Q666,676 689,668 L689,677 L684,682 L652,684 L644,680 Z" fill="#3c3c3c" stroke="#151515" stroke-width="1.5" stroke-linejoin="round"/>
<ellipse cx="666" cy="665" rx="12" ry="5.5" fill="#000"/>
<path d="M766,668 Q764,659 774,660 L788,666 L792,682 L776,684 Q766,680 766,668 Z" fill="#a5a5a5" stroke="#151515" stroke-width="1.5" stroke-linejoin="round"/>
<path d="M776,670 Q784,664 792,672 L794,684 Q786,688 780,684 Z" fill="#d0d0d0" stroke="#151515" stroke-width="1.5" stroke-linejoin="round"/>
<path d="M752,734 Q738,734 738,744 Q738,754 752,754 Z" fill="#8fc0da" stroke="#151515" stroke-width="1.5" stroke-linejoin="round"/>
<path d="M719,733 Q735,778 820,784 L918,784 L900,820 L905,900 L926,940 C850,915 745,870 719,733 Z" fill="#fbf400"/>
<circle cx="1012" cy="859" r="116" fill="#fff" stroke="#fbf400" stroke-width="4"/>
<path d="M925,833 Q930,812 942,806 Q965,803 988,808 L1044,822 L1100,835 Q1110,840 1110,855 L1111,881 Q1104,900 1092,908 L1078,935 Q1040,938 994,929 L952,916 Q930,905 925,881 Z" fill="#f3f3f3" stroke="#dadada" stroke-width="1" stroke-linejoin="round"/>
<path d="M930,845 Q960,842 1000,852 L1060,865 L1105,872 L1108,880 Q1100,898 1090,905 L1076,930 Q1040,932 996,924 L955,912 Q934,902 930,880 Z" fill="#ececec"/>
<path d="M932,870 Q990,880 1090,888 L1092,896 Q990,892 934,884 Z" fill="#e2e2e2"/>
<path d="M990,895 L1020,898 L1020,928 L994,926 Z M1040,900 L1075,902 L1072,930 L1040,930 Z" fill="#e6e6e6"/>
<path d="M945,816 Q965,812 985,816 L990,850 Q965,846 946,842 Z" fill="#f7f7f7"/>
<path d="M905,882 Q906,876 912,877 L934,880 L934,895 L910,894 Q904,892 905,886 Z" fill="#e9e9e9" stroke="#dadada" stroke-width="1" stroke-linejoin="round"/>
<ellipse cx="938" cy="888" rx="8" ry="10" fill="#eeeeee" stroke="#dadada" stroke-width="1" stroke-linejoin="round"/>
<path d="M980,808 L981,797 Q985,793 990,797 L990,810 Z" fill="#ececec" stroke="#dadada" stroke-width="1" stroke-linejoin="round"/>
<path d="M1100,842 L1108,840 Q1112,845 1111,860 L1111,880 Q1108,886 1100,884 Z" fill="#e8e8e8" stroke="#dadada" stroke-width="1" stroke-linejoin="round"/>
<path d="M1045,818 Q1046,806 1058,803 Q1068,800 1082,802 Q1096,806 1098,818 L1097,830 Q1092,840 1075,842 Q1056,842 1048,834 Z" fill="#1c1c1c"/>
<ellipse cx="1069" cy="815" rx="19" ry="12.5" fill="#1c1c1c" stroke="#d9c400" stroke-width="1.6"/>
<path d="M1057,816 L1062,808 L1067,816 Z" fill="#e0cc00"/><rect x="1072" y="809" width="9" height="6" fill="none" stroke="#e0cc00" stroke-width="1.3"/><circle cx="1069" cy="822" r="3.2" fill="none" stroke="#e0cc00" stroke-width="1.3"/>
<path d="M730,470 C790,497 855,522 908,540 Q952,556 946,598 L900,740 Q888,780 860,790 L654,854 Q611,867 611,900 L611,942 Q611,973 585,984 L511,1009" fill="none" stroke="#151515" stroke-width="33" stroke-linecap="butt" stroke-linejoin="round"/>
<path d="M730,470 C790,497 855,522 908,540 Q952,556 946,598 L900,740 Q888,780 860,790 L654,854 Q611,867 611,900 L611,942 Q611,973 585,984 L511,1009" fill="none" stroke="#3a3a3a" stroke-width="30" stroke-linecap="butt" stroke-linejoin="round"/>
<path d="M258,646 L282,640 L292,652 L292,658 L266,664 L258,656 Z" fill="#6a6a6a" stroke="#151515" stroke-width="1.5" stroke-linejoin="round"/>
<path d="M266,658 L292,652 L292,658 L266,664 Z" fill="#222" stroke="#151515" stroke-width="1.5" stroke-linejoin="round"/>
<path d="M219,635.5 L257,625 L259,649 L226,658 Z" fill="#dcdcdc" stroke="#151515" stroke-width="1.5" stroke-linejoin="round"/>
<path d="M207,647.5 L219,635.5 L230,638.5 L226,658 Q214,656 207,652 Z" fill="#eeeeee" stroke="#151515" stroke-width="1.5" stroke-linejoin="round"/>
<path d="M244,624 Q250,614 262,616 L268,650 Q258,656 248,652 Q242,640 244,624 Z" fill="#1e1e1e" stroke="#151515" stroke-width="1.5" stroke-linejoin="round"/>
<path d="M256,617 Q264,611 274,614 L279,643 Q272,648 262,648 Z" fill="#c4c4c4" stroke="#151515" stroke-width="1.5" stroke-linejoin="round"/>
<path d="M263,616 L268,614 L273,644 L268,646 Z" fill="#9a9a9a" stroke="none"/>
<rect x="267" y="630" width="11" height="20" rx="4" fill="#d6d6d6" stroke="#151515" stroke-width="1.5" stroke-linejoin="round"/>
<ellipse cx="272.5" cy="632" rx="5.5" ry="2.5" fill="#aaa" stroke="#151515" stroke-width="1.5" stroke-linejoin="round"/>
<path d="M311,686 L335,683 L337,697 L313,699 Z" fill="#8a8a8a" stroke="#151515" stroke-width="1.5" stroke-linejoin="round"/>
<path d="M300,684 Q295,676 304,672 L309,669 Q312,660 326,659 L338,657 Q346,651 353,656 Q357,663 350,668 Q355,676 347,681 L335,685 Q332,693 321,693 Q309,693 306,688 Z" fill="#d6d6d6" stroke="#151515" stroke-width="1.5" stroke-linejoin="round"/>
<ellipse cx="326" cy="670" rx="18" ry="9" fill="#b4b53a" stroke="#151515" stroke-width="1.5" stroke-linejoin="round"/>
<ellipse cx="326" cy="670" rx="13" ry="6.3" fill="#e2e26a" stroke="#5d5d1a" stroke-width="1"/>
<path d="M352,690 L360,688 L364,700 L356,703 Z" fill="#d0d0d0" stroke="#151515" stroke-width="1.5" stroke-linejoin="round"/>
<path d="M610,562 Q615,543 637,546 Q652,550 665,572 Q690,603 715,606 L760,608 Q790,610 869,653 Q890,666 876,678 Q840,694 787,679" fill="none" stroke="#151515" stroke-width="16" stroke-linecap="round" stroke-linejoin="round"/>
<path d="M610,562 Q615,543 637,546 Q652,550 665,572 Q690,603 715,606 L760,608 Q790,610 869,653 Q890,666 876,678 Q840,694 787,679" fill="none" stroke="#3a3a3a" stroke-width="13" stroke-linecap="round" stroke-linejoin="round"/>
<path d="M338,688 Q400,710 458,719 Q500,716 540,690 Q580,665 620,647 Q680,620 728,612" fill="none" stroke="#151515" stroke-width="15.5" stroke-linecap="round" stroke-linejoin="round"/>
<path d="M338,688 Q400,710 458,719 Q500,716 540,690 Q580,665 620,647 Q680,620 728,612" fill="none" stroke="#3a3a3a" stroke-width="12.5" stroke-linecap="round" stroke-linejoin="round"/>
<path d="M752,744 L819,748 Q845,744 856,714 Q866,696 892,712" fill="none" stroke="#151515" stroke-width="20" stroke-linecap="butt" stroke-linejoin="round"/>
<path d="M752,744 L819,748 Q845,744 856,714 Q866,696 892,712" fill="none" stroke="#3a3a3a" stroke-width="17" stroke-linecap="butt" stroke-linejoin="round"/>
<path d="M710,452 Q720,448 734,458 L744,486 Q738,492 724,492 Z" fill="#c8c8c8" stroke="#151515" stroke-width="1.4" stroke-linejoin="round"/>
<rect x="708" y="478" width="10" height="18" rx="3" fill="#d8d8d8" stroke="#151515" stroke-width="1.4" stroke-linejoin="round"/>
<path d="M923,664 L902,736 Q899,746 896,752" fill="none" stroke="#151515" stroke-width="33" stroke-linecap="butt"/>
<path d="M923,664 L902,736 Q899,746 896,752" fill="none" stroke="#232323" stroke-width="30" stroke-linecap="butt"/>
<path d="M612,606 L612,590 Q617,584 622,590 L622,606 Z" fill="#e0e0e0" stroke="#151515" stroke-width="1.4" stroke-linejoin="round"/>
<ellipse cx="617" cy="589" rx="5" ry="3" fill="#9a9a9a" stroke="#151515" stroke-width="1.4" stroke-linejoin="round"/>
<path d="M613,582 Q624,574 638,576 L640,584 Q626,582 616,590 Z" fill="#bdbdbd" stroke="#151515" stroke-width="1.4" stroke-linejoin="round"/>
<path d="M603,560 Q610,555 618,558 L617,566 Q610,563 604,567 Z" fill="#bdbdbd" stroke="#151515" stroke-width="1.4" stroke-linejoin="round"/>
<rect x="717" y="598" width="10" height="17" rx="2" fill="#cfcfcf" stroke="#151515" stroke-width="1.4" stroke-linejoin="round"/>
<rect x="718" y="593" width="8" height="6" rx="2" fill="#aaa" stroke="#151515" stroke-width="1.4" stroke-linejoin="round"/>
<rect x="745" y="598" width="10" height="17" rx="2" fill="#cfcfcf" stroke="#151515" stroke-width="1.4" stroke-linejoin="round"/>
<rect x="746" y="593" width="8" height="6" rx="2" fill="#aaa" stroke="#151515" stroke-width="1.4" stroke-linejoin="round"/>
<rect x="727" y="600" width="18" height="13" fill="#1e1e1e" stroke="#151515" stroke-width="1.4" stroke-linejoin="round"/>
<path d="M504,1000 Q502,990 509,988 L514,1022 Q506,1020 504,1010 Z" fill="#cfcfcf" stroke="#151515" stroke-width="1.4" stroke-linejoin="round"/>
<path d="M507,990 Q512,982 520,984 L526,1020 Q520,1026 513,1022 Z" fill="#1e1e1e" stroke="#151515" stroke-width="1.4" stroke-linejoin="round"/>
<path d="M514,985 L528,981 L536,1015 L522,1021 Z" fill="#c8c8c8" stroke="#151515" stroke-width="1.4" stroke-linejoin="round"/>
<path d="M519,984 L523,983 L531,1018 L527,1019 Z" fill="#9a9a9a" stroke="none"/>
<rect x="524" y="1003" width="9" height="18" rx="3" fill="#d6d6d6" stroke="#151515" stroke-width="1.4" stroke-linejoin="round"/>
<path d="M611,900 Q611,867 650,855" fill="none" stroke="#151515" stroke-width="33" stroke-linecap="butt"/>
<path d="M611,900 Q611,867 650,855" fill="none" stroke="#262626" stroke-width="30" stroke-linecap="butt"/>
<path d="M594,900 Q611,907 628,900 L628,908 Q611,915 594,908 Z" fill="#cfcfcf" stroke="#151515" stroke-width="1.4" stroke-linejoin="round"/>
<ellipse cx="592" cy="904" rx="5" ry="6" fill="#b0b0b0" stroke="#151515" stroke-width="1.4" stroke-linejoin="round"/>
<path d="M755,734 L758,734 L758,754 L755,754 Z" fill="#d0d0d0" stroke="#151515" stroke-width="1.4" stroke-linejoin="round"/>
<path d="M760,734 L763,734 L763,755 L760,755 Z" fill="#d0d0d0" stroke="#151515" stroke-width="1.4" stroke-linejoin="round"/>
<path d="M26.5,965.8 L107.0,935.0 L98.5,930.0 L132.0,930.5 L131.5,945.0 L120.0,939.0 Z" fill="#2597d4" stroke="#151515" stroke-width="1.2" stroke-linejoin="round"/>
<path d="M104.0,998.1 L184.5,967.3 L176.0,962.3 L209.5,962.8 L209.0,977.3 L197.5,971.3 Z" fill="#2597d4" stroke="#151515" stroke-width="1.2" stroke-linejoin="round"/>
<path d="M182.5,1031.3 L263.0,1000.5 L254.5,995.5 L288.0,996.0 L287.5,1010.5 L276.0,1004.5 Z" fill="#2597d4" stroke="#151515" stroke-width="1.2" stroke-linejoin="round"/>
<path d="M999.8,300.7 C990,288 980,270 981,248.2 L972.2,247.7 L986.2,233.7 L996.3,255.6 L988.9,253 C988,268 990,285 999.8,300.7 Z" fill="#e8201c" stroke="#151515" stroke-width="1.2" stroke-linejoin="round"/>
<path d="M1054.3,323.7 C1044.5,311 1034.5,293 1035.5,271.2 L1026.7,270.7 L1040.7,256.7 L1050.8,278.6 L1043.4,276 C1042.5,291 1044.5,308 1054.3,323.7 Z" fill="#e8201c" stroke="#151515" stroke-width="1.2" stroke-linejoin="round"/>
<path d="M1115.8,345.7 C1106,333 1096,315 1097,293.2 L1088.2,292.7 L1102.2,278.7 L1112.3,300.6 L1104.9,298 C1104,313 1106,330 1115.8,345.7 Z" fill="#e8201c" stroke="#151515" stroke-width="1.2" stroke-linejoin="round"/>
<path d="M909,421 L939,429 Q955,420 962,404 L958,398 L972,391 L980,407 L974,406 Q964,426 947,432 L909,428 Z" fill="#2597d4" stroke="#151515" stroke-width="1.2" stroke-linejoin="round"/>
<path d="M904,436 L1021,476 Q1043,462 1055,439 L1049,437 L1065,430.7 L1073,445 L1061,446.5 Q1047,470 1028,480 L1019,481 L904,443 Z" fill="#2597d4" stroke="#151515" stroke-width="1.2" stroke-linejoin="round"/>
<path d="M744.0,419.0 L822.0,389.0 L816.0,384.0 L850.0,386.0 L849.0,397.0 L838.0,392.0 Z" fill="#2597d4" stroke="#151515" stroke-width="1.2" stroke-linejoin="round"/>
<path d="M692.9,318.4 L715.0,315.5 L715.3,317.7 L722.7,312.7 L714.2,309.8 L714.5,312.0 L692.5,315.0 Z" fill="#e8201c" stroke="#151515" stroke-width="0.5" stroke-linejoin="round"/>
<path d="M758.0,324.6 L735.5,331.6 L734.5,328.3 L726.7,337.0 L738.0,339.7 L737.0,336.4 L759.4,329.4 Z" fill="#e8201c" stroke="#151515" stroke-width="0.5" stroke-linejoin="round"/>
<path d="M314.5,606.2 L294.5,615.2 L292.7,611.1 L285.5,622.0 L298.4,623.9 L296.6,619.8 L316.5,610.8 Z" fill="#e8201c" stroke="#151515" stroke-width="0.5" stroke-linejoin="round"/>
<path d="M629.3,612.6 L608.9,618.7 L607.9,615.4 L600.0,624.0 L611.3,626.9 L610.3,623.5 L630.7,617.4 Z" fill="#e8201c" stroke="#151515" stroke-width="0.5" stroke-linejoin="round"/>
<path d="M667.6,577.5 L679.7,590.9 L678.2,592.3 L685.3,595.3 L683.0,587.9 L681.5,589.3 L669.4,575.9 Z" fill="#e8201c" stroke="#151515" stroke-width="0.4" stroke-linejoin="round"/>
<path d="M819.6,633.9 L839.3,642.6 L838.4,644.6 L847.3,644.2 L841.6,637.3 L840.7,639.4 L821.0,630.7 Z" fill="#e8201c" stroke="#151515" stroke-width="0.5" stroke-linejoin="round"/>
<path d="M483.1,716.9 L503.5,710.5 L504.1,712.4 L510.7,706.7 L502.0,705.8 L502.6,707.7 L482.3,714.1 Z" fill="#e8201c" stroke="#151515" stroke-width="0.4" stroke-linejoin="round"/>
<path d="M681.9,501.3 L645.1,491.1 L646.9,484.4 L622.0,492.0 L639.5,511.3 L641.3,504.6 L678.1,514.7 Z" fill="#e8201c" stroke="#151515" stroke-width="0.6" stroke-linejoin="round"/>
<path d="M571.9,582.4 L593.2,586.6 L592.3,591.1 L608.0,584.0 L596.2,571.4 L595.4,575.9 L574.1,571.6 L578.9,578.2 Z" fill="#e8201c" stroke="#151515" stroke-width="0.6" stroke-linejoin="round"/>
<path d="M798.0,499.3 L776.4,493.3 L777.2,490.4 L766.2,492.5 L774.5,500.0 L775.3,497.1 L797.0,503.2 Z" fill="#2597d4" stroke="#151515" stroke-width="0.6" stroke-linejoin="round"/>
<path d="M929.2,657.0 L933.6,639.9 L938.0,641.0 L933.8,627.5 L923.5,637.2 L927.8,638.4 L923.3,655.5 Z" fill="#2597d4" stroke="#151515" stroke-width="0.6" stroke-linejoin="round"/>
<path d="M752.0,824.7 L774.4,815.2 L775.8,818.4 L783.6,808.6 L771.1,807.4 L772.5,810.6 L750.0,820.1 Z" fill="#2597d4" stroke="#151515" stroke-width="0.6" stroke-linejoin="round"/>
<path d="M550.8,996.0 L573.2,986.8 L574.5,990.0 L582.4,980.3 L569.9,978.9 L571.3,982.2 L548.8,991.4 Z" fill="#2597d4" stroke="#151515" stroke-width="0.6" stroke-linejoin="round"/>
<path d="M782.2,752.3 L800.4,752.9 L800.3,756.4 L810.5,750.3 L800.7,743.4 L800.6,746.9 L782.4,746.3 Z" fill="#2597d4" stroke="#151515" stroke-width="0.6" stroke-linejoin="round"/>
<path d="M536.3,533.4 L513.9,540.4 L512.5,536.1 L503.3,546.8 L517.0,550.4 L515.7,546.1 L538.1,539.2 Z" fill="#2597d4" stroke="#151515" stroke-width="0.6" stroke-linejoin="round"/>
<path d="M447.4,620.5 L423.0,629.8 L421.2,625.1 L410.7,639.8 L428.3,643.8 L426.5,639.2 L451.0,629.9 Z" fill="#2597d4" stroke="#151515" stroke-width="0.8" stroke-linejoin="round"/>
<path d="M414,509 Q438,515 446,528 L450,524 L450,542 L435,536 L441,533 Q434,522 414,513 Z" fill="#2597d4" stroke="#151515" stroke-width="0.8"/>
<path d="M444,604 Q412,606 401,586 L396,590 L396,576 L409,580 L405,583 Q414,600 444,607 Z" fill="#2597d4" stroke="#151515" stroke-width="0.8"/>
<text class="lb" x="678.3" y="268.7">Heater</text>
<text class="lb" x="678" y="286.7">Food Hose</text>
<line x1="678.3" y1="293" x2="678.3" y2="313" stroke="#151515" stroke-width="1.8"/>
<text class="lb" x="706.7" y="383.3">Heater</text>
<text class="lb" x="706.7" y="401.3">Return Hose</text>
<line x1="707" y1="344" x2="707" y2="365" stroke="#151515" stroke-width="1.8"/>
<text class="lb" x="508.3" y="452.7">Thermostat</text>
<text class="lb" x="508.3" y="471.7">Housing</text>
<line x1="546.7" y1="461.7" x2="598" y2="488" stroke="#151515" stroke-width="1.8"/>
<text class="lb" x="252.2" y="500.7">Water Pump</text>
<line x1="305" y1="496.7" x2="393" y2="520" stroke="#151515" stroke-width="1.8"/>
<text class="lb" x="291.3" y="543.3">Upper Radiator</text>
<text class="lb" x="291.3" y="561.7">Hose</text>
<line x1="291.7" y1="570" x2="291.7" y2="603" stroke="#151515" stroke-width="1.8"/>
<text class="lb" x="194.3" y="602.7">Radiator</text>
<line x1="194.7" y1="609.3" x2="194.7" y2="644.7" stroke="#151515" stroke-width="1.8"/>
<text class="lb" x="712.7" y="522.5">Coolant</text>
<text class="lb" x="712.3" y="540.7">from Engine</text>
<text class="lb" x="765.3" y="575.3">Steam Hose</text>
<line x1="664" y1="569.5" x2="712" y2="569.5" stroke="#151515" stroke-width="1.8"/>
<text class="lb" x="561" y="724">Radiator</text>
<text class="lb" x="560.7" y="742.1">Bleed Hose</text>
<line x1="560.5" y1="681.9" x2="560.5" y2="705.9" stroke="#151515" stroke-width="1.8"/>
<text class="lb" x="613" y="794.7">Radiator</text>
<text class="lb" x="612.7" y="812.5">Cooling Fan</text>
<line x1="510" y1="796.5" x2="559.5" y2="796.5" stroke="#151515" stroke-width="1.8"/>
<text class="lb" x="748.5" y="972.6">Lower Radiator Hose</text>
<line x1="612" y1="967" x2="662" y2="967" stroke="#151515" stroke-width="1.8"/>
<text class="lb" x="1055" y="243">Air Flow</text>
<text class="lb" x="843.5" y="481">Fan</text>
<line x1="843.4" y1="438" x2="843.4" y2="463" stroke="#151515" stroke-width="1.8"/>
<text class="lb" x="1149" y="476.25">Heater</text>
<text class="lb" x="1148.75" y="493.75">Core</text>
<line x1="1149.25" y1="400" x2="1149.25" y2="458.75" stroke="#151515" stroke-width="1.8"/>
<text class="lb" x="1010.8" y="1000">Coolant</text>
<text class="lb" x="1010.8" y="1017.7">Expansion Tank</text>
<text class="lb" x="90" y="1030.5">Air Flow</text>
<g transform="translate(565.1,563.3) rotate(-23.5)"><text class="lb" x="0" y="0" style="font-size:11.5px">Coolant</text><text class="lb" x="0" y="13.5" style="font-size:11.5px">from Engine</text></g>
<g transform="translate(402,651) rotate(34.5)"><text class="lb" x="0" y="0" style="font-size:11.5px">Coolant</text><text class="lb" x="-5" y="13.5" style="font-size:11.5px">to Engine</text></g>
<line x1="678.3" y1="309" x2="678.3" y2="320" stroke="#fff" stroke-width="2"/>
<line x1="707" y1="339" x2="707" y2="349" stroke="#fff" stroke-width="2"/>
<line x1="291.7" y1="598" x2="291.7" y2="608" stroke="#fff" stroke-width="2"/>
<line x1="560.5" y1="701" x2="560.5" y2="709" stroke="#fff" stroke-width="2"/>
<line x1="1149.25" y1="399" x2="1149.25" y2="410" stroke="#fff" stroke-width="2"/>
<line x1="612" y1="967" x2="624" y2="967" stroke="#fff" stroke-width="2"/>
<line x1="664" y1="569.5" x2="671" y2="569.5" stroke="#fff" stroke-width="2"/>
<line x1="510" y1="796.5" x2="515" y2="796.5" stroke="#fff" stroke-width="2"/>

</svg>
</body></html>
